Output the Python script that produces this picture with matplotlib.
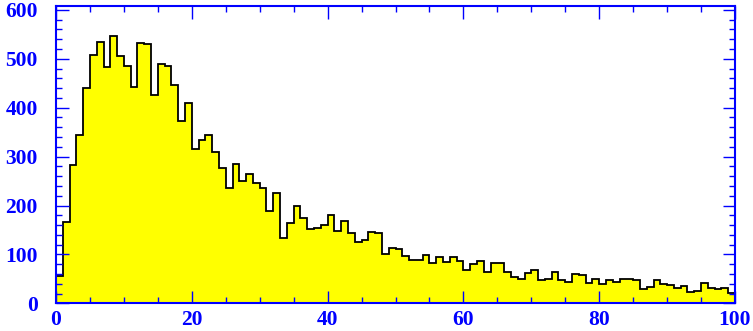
import numpy as np
import matplotlib
matplotlib.use("Agg")
import matplotlib.pyplot as plt
from matplotlib.ticker import MultipleLocator

# Histogram contents, one entry per unit-width bin from 0 to 100
counts = [
    56, 166, 283, 345, 440, 507, 534, 484, 547, 505,
    486, 443, 533, 530, 427, 490, 485, 446, 372, 410,
    316, 333, 344, 309, 276, 235, 285, 250, 264, 247,
    236, 189, 226, 133, 164, 198, 175, 151, 155, 160,
    181, 147, 169, 143, 126, 129, 146, 143, 101, 113,
    111, 97, 89, 89, 98, 82, 95, 84, 95, 87,
    68, 80, 86, 65, 82, 82, 63, 54, 50, 61,
    68, 47, 50, 63, 47, 43, 60, 57, 41, 49,
    39, 48, 44, 50, 50, 47, 29, 34, 48, 40,
    37, 31, 36, 24, 26, 41, 31, 30, 32, 22,
]
x_range = (0, 100)
y_top = 608
x_ticks = [0, 20, 40, 60, 80, 100]
y_ticks = [0, 100, 200, 300, 400, 500, 600]

edges = np.linspace(x_range[0], x_range[1], len(counts) + 1)

fig = plt.figure(figsize=(7.53, 3.31), dpi=100)
ax = fig.add_axes([56 / 753, 27.7 / 331, (735 - 56) / 753, (303.3 - 6) / 331])

ax.stairs(counts, edges, fill=True, color="#ffff00", zorder=1)
ax.stairs(counts, edges, color="black", linewidth=1.3, zorder=1.5)

ax.set_xlim(*x_range)
ax.set_ylim(0, y_top)

blue = "#0000ff"
for sp in ax.spines.values():
    sp.set_color(blue)
    sp.set_linewidth(1.5)
    sp.set_zorder(3)

ax.set_xticks(x_ticks)
ax.set_yticks(y_ticks)
ax.xaxis.set_minor_locator(MultipleLocator(5))
ax.yaxis.set_minor_locator(MultipleLocator(20))

ax.tick_params(which="both", direction="in", top=True, right=True,
               color=blue, width=1.0)
ax.tick_params(which="major", length=9)
ax.tick_params(which="minor", length=4.5)
ax.tick_params(axis="y", which="major", pad=13)
ax.tick_params(axis="x", which="major", pad=5)

for lab in ax.get_xticklabels() + ax.get_yticklabels():
    lab.set_fontfamily("Liberation Serif")
    lab.set_fontweight("bold")
    lab.set_fontsize(15.5)
    lab.set_color(blue)

fig.savefig("out.png", dpi=100)
